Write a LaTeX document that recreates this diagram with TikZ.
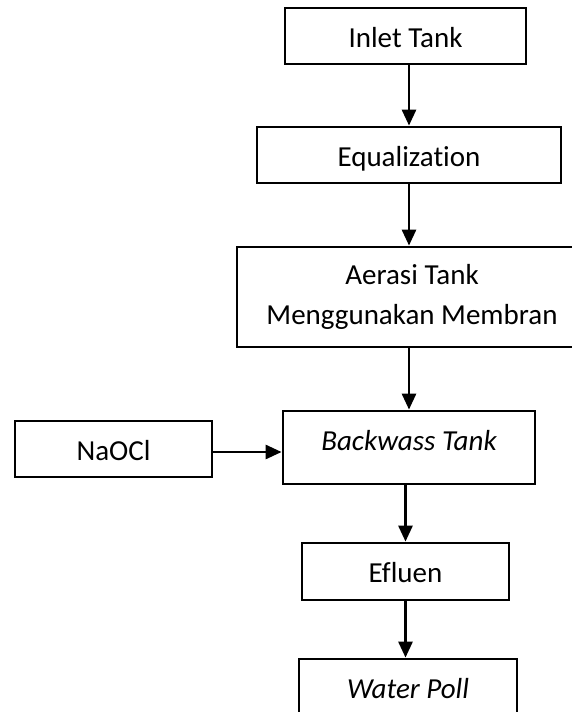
\documentclass[tikz,border=0pt]{standalone}
\usepackage{fontspec}
\setmainfont{Carlito}[Ligatures=CommonOff]
\usetikzlibrary{arrows.meta}

\begin{document}
\begin{tikzpicture}[
  x=1pt, y=-1pt,
  font=\fontsize{29}{40}\selectfont,
  % process box: text baseline sits 39pt below the top edge
  tbox/.style={draw, line width=2.8pt, inner sep=0pt, text height=39pt},
  flow/.style={line width=2.8pt, -{Triangle[width=14pt,length=16pt]}}
]
\useasboundingbox (0,0) rectangle (572,712);
\clip (0,0) rectangle (572,712);

\node[tbox, minimum width=241pt, minimum height=56pt, text depth=17pt] (inlet) at (405.5,36) {Inlet Tank};
\node[tbox, minimum width=304pt, minimum height=56pt, text depth=17pt] (equal) at (409,155) {Equalization};
\node[draw, line width=2.8pt, inner sep=0pt, minimum width=350pt, minimum height=100pt, align=center] (aerasi) at (412,297) {Aerasi Tank\\Menggunakan Membran};
\node[tbox, minimum width=252pt, minimum height=73pt, text depth=34pt] (backwash) at (409,447.5) {\itshape Backwass Tank};
\node[tbox, minimum width=197pt, minimum height=56pt, text depth=17pt] (naocl) at (113.5,449) {NaOCl};
\node[tbox, minimum width=207pt, minimum height=57pt, text depth=18pt] (efluen) at (405.5,571.5) {Efluen};
\node[tbox, minimum width=218pt, minimum height=56pt, text depth=17pt] (pool) at (408,687) {\itshape Water Poll};

\draw[flow] (inlet.south -| equal.north) -- (equal.north);
\draw[flow] (equal.south) -- (equal.south |- aerasi.north);
\draw[flow] (backwash.north |- aerasi.south) -- (backwash.north);
\draw[flow] ([yshift=-3pt]naocl.east) -- ([yshift=-3pt]naocl.east -| backwash.west);
\draw[flow] (efluen.north |- backwash.south) -- (efluen.north);
\draw[flow] (efluen.south) -- (efluen.south |- pool.north);
\end{tikzpicture}
\end{document}
